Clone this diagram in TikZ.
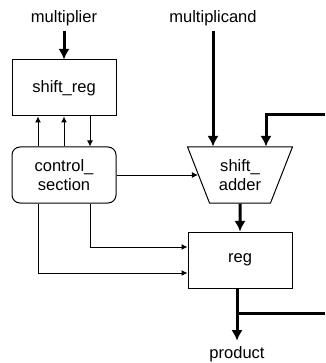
\documentclass[tikz,border=0pt]{standalone}
\usepackage{fontspec}
\setmainfont{Liberation Sans}
\usetikzlibrary{positioning, shapes.geometric, arrows.meta, calc}

\begin{document}
\begin{tikzpicture}[x=0.75pt, y=-0.75pt]
      \tikzset{ lbl/.style ={font=\fontsize{12.4}{14.5}\selectfont} }
      \tikzset{ blk/.style ={lbl, draw, line width=0.75pt, minimum width=78pt, minimum height=42pt, align=center} }
      \tikzset{ ctl/.style ={blk, rounded corners=6pt} }
      \tikzset{ alu/.style ={lbl, draw, line width=0.75pt, trapezium, shape border rotate=180, trapezium angle=65.5, trapezium stretches=true, minimum width=79pt, minimum height=42pt, align=center} }
      \tikzset{ pin/.style ={lbl, inner sep=4pt} }
      \tikzset{ sig/.style ={line width=0.75pt} }
      \tikzset{ bus/.style ={line width=2.25pt} }

      \useasboundingbox (0,0) rectangle (325,363);

      \node[blk] (sreg) at (64,88)  {shift\_reg};
      \node[ctl] (ctrl) at (64,175) {control\_\\section};
      \node[alu] (adder) at (240,175) {shift\_\\adder};
      \node[blk] (reg)  at (240,260) {reg};

      \node[pin] (mplier) at (64,18)  {multiplier};
      \node[pin] (mcand)  at (213,18) {multiplicand};
      \node[pin] (prod)   at (237,354) {product};

      \coordinate (fb)   at (325,115);
      \coordinate (tap)  at (325,313);

      \draw[bus,-{Latex[length=8pt,width=8.5pt]}] (mplier.south) -- (sreg.north);
      \draw[bus,-{Latex[length=8pt,width=8.5pt]}] (mcand.south) -- (mcand.south |- adder.north);
      \draw[bus,-{Latex[length=8pt,width=8.5pt]}] (fb) -| ([xshift=19.5pt]adder.north);
      \draw[bus,-{Latex[length=8pt,width=8.5pt]}] (adder.south) -- (reg.north);
      \draw[bus,-{Latex[length=8pt,width=8.5pt]}] (prod |- reg.south) -- (prod.north);
      \draw[bus] (prod |- tap) -- (tap);

      \draw[sig,-{Latex[length=4.5pt,width=4.5pt]}] ([xshift=-19.5pt]ctrl.north) -- ([xshift=-19.5pt]sreg.south);
      \draw[sig,-{Latex[length=4.5pt,width=4.5pt]}] (ctrl.north) -- (sreg.south);
      \draw[sig,-{Latex[length=4.5pt,width=4.5pt]}] ([xshift=19.5pt]sreg.south) -- ([xshift=19.5pt]ctrl.north);
      \draw[sig,-{Latex[length=4.5pt,width=4.5pt]}] (ctrl.east) -- (ctrl.east -| adder.west);
      \draw[sig,-{Latex[length=4.5pt,width=4.5pt]}] ([xshift=19.5pt]ctrl.south) |- ([yshift=9.75pt]reg.west);
      \draw[sig,-{Latex[length=4.5pt,width=4.5pt]}] ([xshift=-19.5pt]ctrl.south) |- ([yshift=-9.75pt]reg.west);
\end{tikzpicture}
\end{document}
